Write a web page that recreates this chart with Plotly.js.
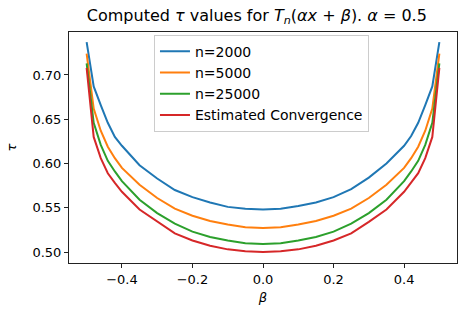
<!DOCTYPE html>
<html>
<head>
<meta charset="utf-8">
<script src="https://cdn.plot.ly/plotly-3.0.1.min.js"></script>
<style>html,body{margin:0;padding:0;background:#fff;}#chart{width:467px;height:317px;}</style>
</head>
<body>
<div id="chart"></div>
<script>
const beta = [-0.5,-0.48,-0.46,-0.44,-0.42,-0.4,-0.35,-0.3,-0.25,-0.2,-0.15,-0.1,-0.05,0,0.05,0.1,0.15,0.2,0.25,0.3,0.35,0.4,0.42,0.44,0.46,0.48,0.5];
const tau2000 = [0.737,0.687,0.666,0.646,0.630,0.620,0.598,0.583,0.570,0.562,0.556,0.551,0.549,0.548,0.549,0.552,0.556,0.562,0.571,0.584,0.600,0.620,0.631,0.646,0.666,0.687,0.737];
const tau5000 = [0.724,0.662,0.637,0.619,0.606,0.595,0.576,0.561,0.549,0.541,0.535,0.531,0.528,0.527,0.528,0.531,0.535,0.541,0.549,0.561,0.576,0.595,0.606,0.619,0.637,0.662,0.724];
const tau25000 = [0.713,0.646,0.621,0.603,0.591,0.580,0.559,0.544,0.532,0.523,0.517,0.513,0.510,0.509,0.510,0.513,0.517,0.523,0.532,0.544,0.559,0.580,0.591,0.603,0.621,0.646,0.713];
const tauConv = [0.708,0.630,0.606,0.589,0.578,0.568,0.548,0.534,0.521,0.513,0.507,0.503,0.501,0.500,0.501,0.503,0.507,0.513,0.521,0.534,0.548,0.568,0.578,0.589,0.606,0.630,0.708];
const names = ['n=2000','n=5000','n=25000','Estimated Convergence'];
const colors = ['#1f77b4','#ff7f0e','#2ca02c','#d62728'];
const series = [tau2000, tau5000, tau25000, tauConv];

const traces = series.map((s, i) => ({
  x: beta, y: s, type: 'scatter', mode: 'lines', name: names[i],
  line: {color: colors[i], width: 2}
}));

const font = {family: 'DejaVu Sans', size: 13, color: '#000'};
const layout = {
  width: 467, height: 317,
  margin: {l: 69, r: 10, t: 32, b: 54},
  paper_bgcolor: '#fff', plot_bgcolor: '#fff',
  font: font,
  showlegend: true,
  title: {text: 'Computed <i>τ</i> values for <i>T</i><sub><i>n</i></sub>(<i>αx</i> + <i>β</i>). <i>α</i> = 0.5',
          font: {family: 'DejaVu Sans', size: 16, color: '#000'}, x: 0.55, xanchor: 'center', y: 0.952, yanchor: 'middle'},
  xaxis: {
    range: [-0.55, 0.55], tickvals: [-0.4,-0.2,0,0.2,0.4], ticktext: ['−0.4','−0.2','0.0','0.2','0.4'],
    showgrid: false, zeroline: false, showline: true, mirror: true, linecolor: '#222', linewidth: 1,
    ticks: 'outside', ticklen: 4, tickcolor: '#222',
    title: {text: '<i>β</i>', font: font, standoff: 7}
  },
  yaxis: {
    range: [0.4876, 0.7485], tickvals: [0.5,0.55,0.6,0.65,0.7], ticktext: ['0.50','0.55','0.60','0.65','0.70'],
    showgrid: false, zeroline: false, showline: true, mirror: true, linecolor: '#222', linewidth: 1,
    ticks: 'outside', ticklen: 4, tickcolor: '#222',
    title: {text: '<i>τ</i>', font: font, standoff: 12}
  },
  legend: {
    x: 0.219, y: 0.988, xanchor: 'left', yanchor: 'top',
    bgcolor: 'rgba(255,255,255,0.8)', bordercolor: '#ccc', borderwidth: 1,
    font: {family: 'DejaVu Sans', size: 14, color: '#000'}, tracegroupgap: 0
  }
};
Plotly.newPlot('chart', traces, layout, {staticPlot: true, displayModeBar: false});
</script>
</body>
</html>
